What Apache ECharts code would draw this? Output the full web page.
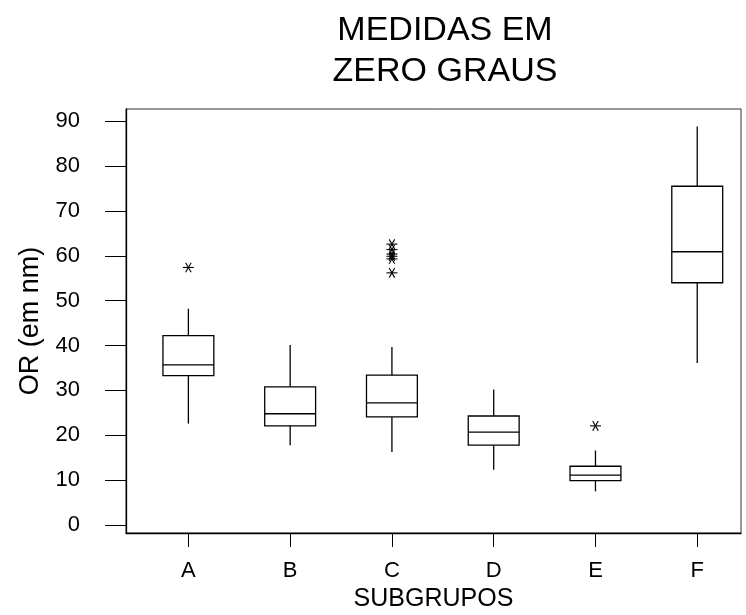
<!DOCTYPE html>
<html>
<head>
<meta charset="utf-8">
<script src="https://cdn.jsdelivr.net/npm/echarts@6/dist/echarts.min.js"></script>
<style>
html,body{margin:0;padding:0;background:#fff;}
#chart{width:746px;height:615px;}
</style>
</head>
<body>
<div id="chart"></div>
<script>
var categories = ['A', 'B', 'C', 'D', 'E', 'F'];
var whiskerLow  = [22.6, 17.8, 16.3, 12.3, 7.5, 36.1];
var q1          = [33.3, 22.1, 24.1, 17.8, 9.9, 54.0];
var median      = [35.7, 24.8, 27.2, 20.7, 11.1, 60.9];
var q3          = [42.2, 30.8, 33.4, 24.3, 13.1, 75.5];
var whiskerHigh = [48.2, 40.1, 39.7, 30.2, 16.6, 88.8];
var outlierCat  = ['A', 'C', 'C', 'C', 'C', 'C', 'C', 'E'];
var outlierVal  = [57.4, 62.6, 61.4, 60.4, 59.9, 59.3, 56.2, 22.1];
var yTicks = [0, 10, 20, 30, 40, 50, 60, 70, 80, 90];

var FONT = '"Liberation Sans", Arial, sans-serif';
var catPos = categories.map(function (c, i) { return i + 1; });
var boxData = categories.map(function (c, i) {
  return [i + 1, whiskerLow[i], q1[i], median[i], q3[i], whiskerHigh[i]];
});
var outData = outlierCat.map(function (c, i) {
  return [categories.indexOf(c) + 1, outlierVal[i]];
});

var LINE = {stroke: '#000', lineWidth: 1.3, fill: null};

function renderBox(params, api) {
  var x = api.value(0);
  var half = 0.25;
  var pLow = api.coord([x, api.value(1)]);
  var pQ1L = api.coord([x - half, api.value(2)]);
  var pQ3R = api.coord([x + half, api.value(4)]);
  var pMedL = api.coord([x - half, api.value(3)]);
  var pMedR = api.coord([x + half, api.value(3)]);
  var pQ1 = api.coord([x, api.value(2)]);
  var pQ3 = api.coord([x, api.value(4)]);
  var pHigh = api.coord([x, api.value(5)]);
  return {
    type: 'group',
    children: [
      {type: 'rect', shape: {x: pQ1L[0], y: pQ3R[1], width: pQ3R[0] - pQ1L[0], height: pQ1L[1] - pQ3R[1]}, style: LINE},
      {type: 'line', shape: {x1: pMedL[0], y1: pMedL[1], x2: pMedR[0], y2: pMedR[1]}, style: LINE},
      {type: 'line', shape: {x1: pQ1[0], y1: pQ1[1], x2: pLow[0], y2: pLow[1]}, style: LINE},
      {type: 'line', shape: {x1: pQ3[0], y1: pQ3[1], x2: pHigh[0], y2: pHigh[1]}, style: LINE}
    ]
  };
}

function renderStar(params, api) {
  var p = api.coord([api.value(0), api.value(1)]);
  var r = 5.5;
  var children = [];
  [0, 60, 120].forEach(function (deg) {
    var a = deg * Math.PI / 180;
    var dx = r * Math.cos(a), dy = r * Math.sin(a);
    children.push({type: 'line', shape: {x1: p[0] - dx, y1: p[1] - dy, x2: p[0] + dx, y2: p[1] + dy},
      style: {stroke: '#000', lineWidth: 1.1}});
  });
  return {type: 'group', children: children};
}

var chart = echarts.init(document.getElementById('chart'), null, {renderer: 'canvas'});
chart.setOption({
  animation: false,
  backgroundColor: '#fff',
  title: {
    text: 'MEDIDAS EM\nZERO GRAUS',
    left: 440,
    top: 5,
    textAlign: 'center',
    textStyle: {fontFamily: FONT, fontSize: 34, fontWeight: 'normal', color: '#000', lineHeight: 41}
  },
  grid: {
    left: 126, top: 109, right: 5, bottom: 82,
    containLabel: false,
    outerBoundsMode: 'none',
    show: true, borderColor: '#333', borderWidth: 1, backgroundColor: 'transparent'
  },
  xAxis: {
    type: 'value',
    min: 0.387, max: 6.43,
    splitLine: {show: false},
    axisLine: {show: true, onZero: false, lineStyle: {color: '#000', width: 1.3}},
    axisTick: {show: true, length: 14, customValues: catPos, lineStyle: {color: '#000', width: 1}},
    axisLabel: {
      customValues: catPos, margin: 27, fontSize: 22, fontFamily: FONT, color: '#000',
      formatter: function (v) { return categories[Math.round(v) - 1] || ''; }
    },
    name: 'SUBGRUPOS', nameLocation: 'middle', nameGap: 48,
    nameTextStyle: {fontFamily: FONT, fontSize: 25, color: '#000'}
  },
  yAxis: {
    type: 'value',
    min: -1.78, max: 92.72,
    splitLine: {show: false},
    axisLine: {show: true, onZero: false, lineStyle: {color: '#000', width: 1.3}},
    axisTick: {show: true, length: 21, customValues: yTicks, lineStyle: {color: '#000', width: 1}},
    axisLabel: {customValues: yTicks, margin: 46, fontSize: 22, fontFamily: FONT, color: '#000'},
    name: 'OR (em nm)', nameLocation: 'middle', nameGap: 82,
    nameTextStyle: {fontFamily: FONT, fontSize: 27, color: '#000'}
  },
  series: [
    {type: 'custom', renderItem: renderBox, data: boxData, encode: {x: 0, y: [1, 2, 3, 4, 5]}, silent: true},
    {type: 'custom', renderItem: renderStar, data: outData, encode: {x: 0, y: 1}, silent: true}
  ]
});
</script>
</body>
</html>
